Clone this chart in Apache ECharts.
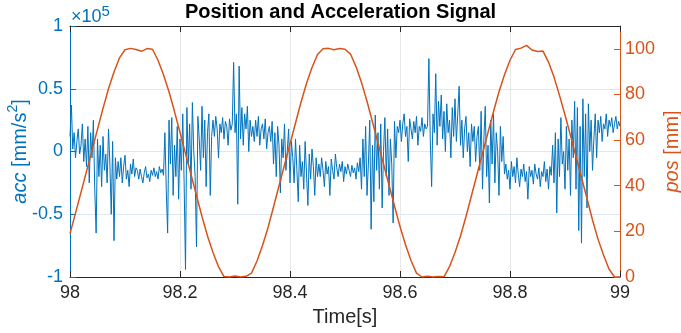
<!DOCTYPE html>
<html>
<head>
<meta charset="utf-8">
<script src="https://cdn.jsdelivr.net/npm/echarts@6/dist/echarts.min.js"></script>
<style>html,body{margin:0;padding:0;background:#fff}#c{width:681px;height:333px}</style>
</head>
<body>
<div id="c"></div>
<script>
// ---- data ----
const TITLE = 'Position and Acceleration Signal';
const X_MIN = 98, X_MAX = 99, X_INTERVAL = 0.2;
const ACC_MIN = -1, ACC_MAX = 1, ACC_INTERVAL = 0.5;   // units of 1e5 mm/s^2
const POS_MIN = 0, POS_MAX = 110, POS_INTERVAL = 20;   // mm

// acceleration samples, start 98 s, every 0.0025 s, in 1e5 mm/s^2
const accStart = 98, accStep = 0.0025;
const accValues = [
  0.12, 0.37, 0.02, 0.15, -0.05, 0.08, 0.18, -0.02, 0.05, 0.22, -0.08, 0.1,
  -0.12, 0.2, -0.25, 0.15, -0.05, 0.25, -0.3, -0.65, 0.1,
  -0.2, 0.05, -0.28, 0.12, -0.15, -0.02, -0.25, 0.18, -0.1, -0.5, 0.08, -0.71, -0.05, -0.22,
  -0.08, -0.2, -0.05, -0.25, -0.12, -0.03, -0.22, -0.15, -0.28, -0.1, -0.18, -0.06, -0.2, -0.13,
  -0.15, -0.22, -0.14, -0.2, -0.25, -0.17, -0.12, -0.21, -0.18, -0.24, -0.15, -0.19, -0.13, -0.2, -0.16, -0.22, -0.12, -0.17, -0.14, -0.19,
  0.15, -0.3, -0.65, 0.25, -0.1, 0.27, -0.35, 0.05, -0.2, 0.2, -0.38, 0.1,
  -0.15, 0.3, -0.25, -0.94, 0.35, -0.1, 0.22, -0.3, 0.39, 0.0, -0.2, -0.76, 0.28, 0.1, -0.15, 0.36, -0.05, 0.25, -0.28, 0.15,
  0.3, -0.35, 0.12,
  0.25, 0.12, 0.28, 0.18, -0.05, 0.22, 0.15, 0.27, 0.1, 0.24, 0.2, 0.05, 0.26, 0.17, 0.22, 0.71,
  0.15, 0.3, -0.42, 0.68, 0.1, 0.35, 0.05, 0.3, 0.18, 0.36, 0.0, 0.25, 0.12,
  0.2, 0.08, 0.25, 0.12, 0.28, 0.05, 0.18, 0.22, 0.1, 0.26, 0.02, 0.15, 0.2, 0.08,
  0.24, -0.1, 0.15, -0.2, 0.2, 0.05, -0.33, 0.1, -0.05, 0.22, -0.15, 0.0, 0.18, -0.25, 0.08,
  -0.05, -0.25, 0.1, -0.15, -0.4, 0.05, -0.2, -0.08, -0.3, 0.08, -0.18, -0.43, -0.02, -0.22, 0.02, -0.12, -0.35, -0.05, -0.2,
  -0.1, -0.2, -0.05, -0.15, -0.28, -0.08, -0.18, -0.12, -0.35, -0.06, -0.15, -0.22, -0.02, -0.13, -0.2, -0.1, -0.16, -0.08, -0.24, -0.12, -0.18, -0.1, -0.15, -0.2, -0.11, -0.17, -0.13, -0.22, -0.09, -0.16,
  -0.05, -0.3, 0.1, -0.2, 0.2, -0.35, -0.1, 0.25, -0.62, 0.05, -0.4, 0.29, -0.15, 0.15, -0.3, 0.22, -0.45, 0.0, 0.27, -0.2, 0.18, -0.35, 0.1, -0.1, -0.57, 0.24, -0.05, 0.2,
  0.15, 0.25, 0.08, 0.22, 0.3, 0.12, 0.2, -0.08, 0.26, 0.18, 0.1, 0.24, 0.15, 0.28, 0.05, 0.2, 0.16, 0.27, 0.12, 0.22, 0.18,
  0.2, 0.74, 0.1, -0.28, 0.3, 0.15, 0.62, 0.05, 0.4, 0.2, 0.45, 0.1, 0.32, 0.0, 0.38, 0.15, 0.25, -0.05, 0.35, 0.12, 0.42, 0.08, 0.3, 0.52,
  0.05, 0.25, -0.05, 0.18, 0.28, 0.0, 0.15, -0.12, 0.22, 0.08, 0.2, -0.08, 0.12,
  0.2, -0.15, 0.32, -0.3, 0.1, 0.36, -0.2, 0.05, -0.41, 0.25, -0.1, 0.3, -0.25, 0.15, 0.0, -0.35, 0.2, -0.08, 0.12, -0.18,
  -0.1, -0.22, -0.15, -0.3, -0.08, -0.2, -0.12, -0.25, -0.05, -0.18, -0.28, -0.14, -0.2, -0.1, -0.24, -0.16, -0.38, -0.12, -0.2, -0.15, -0.26, -0.1, -0.18, -0.22, -0.13, -0.28, -0.16, -0.2, -0.08, -0.24, -0.14, -0.3, -0.12, -0.19,
  0.05, -0.25, 0.15, -0.49, 0.1, -0.2, 0.27, -0.1, 0.0, -0.3, 0.2, -0.15, 0.1, -0.35, 0.25, -0.05, 0.4,
  -0.3, 0.35, -0.63, 0.2, -0.73, 0.42, -0.2, 0.3, -0.45, 0.38, 0.0, 0.25, -0.15,
  0.1, 0.3, -0.05, 0.25, 0.15, 0.28, 0.08, 0.22, 0.18, 0.3, 0.12, 0.25, 0.2, 0.27, 0.15, 0.22, 0.28, 0.18, 0.24, 0.2
];

// position samples, start 98 s, every 0.01 s, in mm
const posStart = 98, posStep = 0.01;
const posValues = [
  19, 28, 37.1, 46.3, 55.5, 64.7, 73.9, 82.5, 89.8, 96,
  99.6, 100.2, 99.7, 98.9, 100.1, 99.8, 95, 88.6, 81.2, 72.5,
  63.3, 54.1, 44.9, 35.7, 26.5, 18, 10.7, 4.5, 0.2, 0,
  0.4, 0, 0.3, 1.7, 7, 13.8, 21.6, 30.7, 40, 49.1,
  58.3, 67.5, 76.6, 84.8, 91.8, 97.5, 100, 100.2, 99.6, 100.1,
  99.8, 97.7, 92.2, 85.2, 77, 67.9, 58.7, 49.5, 40.3, 31.1,
  22.1, 14.1, 7.2, 1.7, 0, 0.3, 0, 0.2, 0.1, 4.5,
  10.7, 18, 26.5, 35.7, 44.9, 54.1, 63.3, 72.5, 81.2, 88.6,
  95, 99.7, 100.3, 101.5, 99.5, 98.8, 99, 94.2, 87.6, 79.6,
  71, 62, 52.8, 43.6, 34.4, 25, 16.6, 9.6, 3.5, 0,
  0
];

// ---- build series data ----
const accData = accValues.map((v, i) => [+(accStart + i * accStep).toFixed(4), v]);
const posData = posValues.map((v, i) => [+(posStart + i * posStep).toFixed(4), v]);

const FONT = "'Liberation Sans', Arial, Helvetica, sans-serif";
const BLUE = '#0072BD', ORANGE = '#D95319', DARK = '#262626';

const chart = echarts.init(document.getElementById('c'), null, {renderer: 'canvas'});
chart.setOption({
  animation: false,
  backgroundColor: '#ffffff',
  title: {
    text: TITLE, left: 'center', top: 2, padding: [0, 0, 0, 9],
    textStyle: {fontFamily: FONT, fontSize: 20, fontWeight: 'bold', color: '#000'}
  },
  grid: {left: 70, right: 61, top: 26, bottom: 56, containLabel: false, outerBoundsMode: 'none'},
  graphic: [{
    type: 'text', left: 71, top: 4,
    style: {
      text: '{a|×10}{b|5}',
      rich: {
        a: {fontFamily: FONT, fontSize: 18, fill: BLUE, lineHeight: 22, verticalAlign: 'bottom'},
        b: {fontFamily: FONT, fontSize: 15, fill: BLUE, lineHeight: 11, verticalAlign: 'top'}
      }
    }
  }],
  xAxis: [{
    type: 'value', min: X_MIN, max: X_MAX, interval: X_INTERVAL, position: 'bottom',
    name: 'Time[s]', nameLocation: 'middle', nameGap: 30, nameMoveOverlap: false,
    nameTextStyle: {fontFamily: FONT, fontSize: 20, color: DARK},
    axisLine: {show: true, onZero: false, lineStyle: {color: DARK, width: 1}},
    axisTick: {show: true, inside: true, length: 6, lineStyle: {color: DARK}},
    axisLabel: {fontFamily: FONT, fontSize: 18, color: DARK, margin: 7,
      formatter: v => String(+v.toFixed(1))},
    splitLine: {show: true, lineStyle: {color: '#e8e8e8', width: 1}}
  }, {
    type: 'value', min: X_MIN, max: X_MAX, interval: X_INTERVAL, position: 'top',
    axisLine: {show: true, onZero: false, lineStyle: {color: DARK, width: 1}},
    axisTick: {show: true, inside: true, length: 6, lineStyle: {color: DARK}},
    axisLabel: {show: false},
    splitLine: {show: false}
  }],
  yAxis: [{
    type: 'value', min: ACC_MIN, max: ACC_MAX, interval: ACC_INTERVAL, position: 'left',
    name: '{i|acc}{n| [mm/s}{s|2}{n|]}', nameLocation: 'middle', nameGap: 40, nameMoveOverlap: false,
    nameTextStyle: {
      fontFamily: FONT, fontSize: 20, color: BLUE,
      rich: {
        i: {fontFamily: FONT, fontSize: 20, fontStyle: 'italic', color: BLUE, lineHeight: 24, verticalAlign: 'bottom'},
        n: {fontFamily: FONT, fontSize: 20, color: BLUE, lineHeight: 24, verticalAlign: 'bottom'},
        s: {fontFamily: FONT, fontSize: 14, color: BLUE, lineHeight: 12, verticalAlign: 'top'}
      }
    },
    axisLine: {show: true, onZero: false, lineStyle: {color: BLUE, width: 1}},
    axisTick: {show: true, inside: true, length: 6, lineStyle: {color: BLUE}},
    axisLabel: {fontFamily: FONT, fontSize: 18, color: BLUE, margin: 7},
    splitLine: {show: true, lineStyle: {color: '#dde8f2', width: 1}}
  }, {
    type: 'value', min: POS_MIN, max: POS_MAX, interval: POS_INTERVAL, position: 'right',
    name: '{i|pos}{n| [mm]}', nameLocation: 'middle', nameGap: 42, nameMoveOverlap: false,
    nameTextStyle: {
      fontFamily: FONT, fontSize: 20, color: ORANGE,
      rich: {
        i: {fontFamily: FONT, fontSize: 20, fontStyle: 'italic', color: ORANGE},
        n: {fontFamily: FONT, fontSize: 20, color: ORANGE}
      }
    },
    axisLine: {show: true, onZero: false, lineStyle: {color: ORANGE, width: 1}},
    axisTick: {show: true, inside: true, length: 6, lineStyle: {color: ORANGE}},
    axisLabel: {fontFamily: FONT, fontSize: 18, color: ORANGE, margin: 5, showMaxLabel: false,
      formatter: v => (v % POS_INTERVAL === 0 ? String(v) : '')},
    splitLine: {show: false}
  }],
  series: [{
    name: 'acc', type: 'line', xAxisIndex: 0, yAxisIndex: 0, data: accData,
    showSymbol: false, symbol: 'none', sampling: null, clip: true, z: 2,
    lineStyle: {color: BLUE, width: 1}
  }, {
    name: 'pos', type: 'line', xAxisIndex: 0, yAxisIndex: 1, data: posData,
    showSymbol: false, symbol: 'none', clip: true, z: 3,
    lineStyle: {color: ORANGE, width: 1.5}
  }]
});
</script>
</body>
</html>
